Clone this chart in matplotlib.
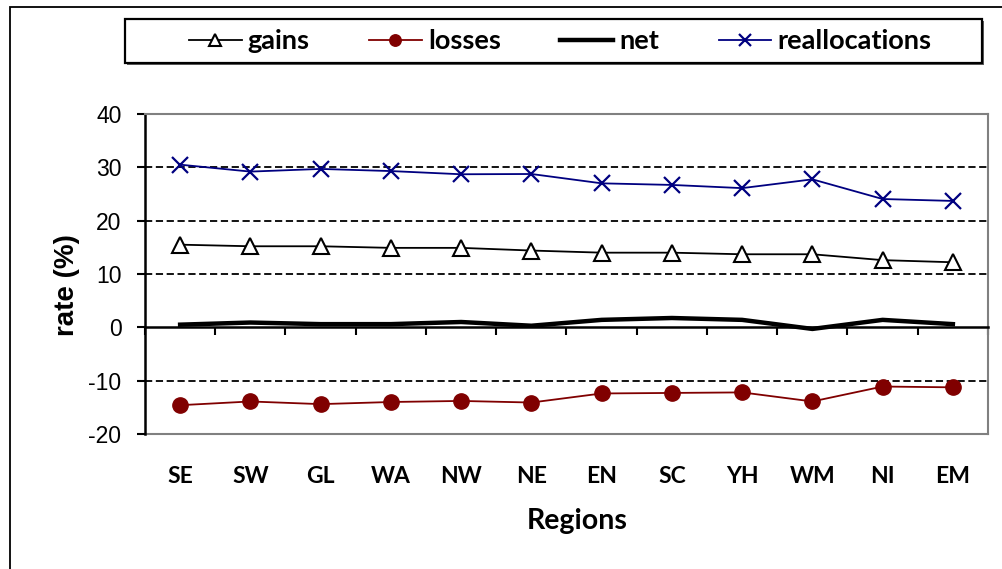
import numpy as np
import matplotlib
matplotlib.use('Agg')
import matplotlib.pyplot as plt
from matplotlib.patches import Rectangle

# data
regions = ['SE', 'SW', 'GL', 'WA', 'NW', 'NE', 'EN', 'SC', 'YH', 'WM', 'NI', 'EM']
gains = [15.5, 15.2, 15.2, 14.9, 14.9, 14.4, 14.0, 14.0, 13.7, 13.7, 12.6, 12.2]
losses = [-14.6, -13.9, -14.4, -14.0, -13.8, -14.1, -12.4, -12.3, -12.2, -13.9, -11.1, -11.25]
net = [0.5, 0.9, 0.6, 0.6, 1.0, 0.3, 1.4, 1.75, 1.4, -0.3, 1.4, 0.6]
reallocations = [30.5, 29.2, 29.7, 29.3, 28.7, 28.75, 27.0, 26.7, 26.1, 27.75, 24.06, 23.7]
yticks = [-20, -10, 0, 10, 20, 30, 40]
gridvals = [-10, 10, 20, 30]

calib = ['Lato', 'DejaVu Sans']
arial = ['Liberation Sans', 'DejaVu Sans']

fig = plt.figure(figsize=(10.03, 5.69), dpi=100)

# outer chart frame (runs off the right and bottom edge)
fig.patches.append(Rectangle((10 / 1003, -0.05), 1.0, 1 - 7 / 569 + 0.05,
                             transform=fig.transFigure, fill=False,
                             edgecolor='black', linewidth=1.3))

ax = fig.add_axes([145 / 1003, 1 - 434 / 569, 843 / 1003, 320 / 569])
x = np.arange(len(regions))

for g in gridvals:
    ax.axhline(g, color='black', linestyle=(0, (4, 2)), linewidth=1.3, zorder=1)

ax.plot(x, gains, color='black', linewidth=1.3, marker='^', markersize=11,
        markerfacecolor='white', markeredgecolor='black', markeredgewidth=1.5,
        label='gains', zorder=3)
ax.plot(x, losses, color='#800000', linewidth=1.3, marker='o', markersize=11,
        markerfacecolor='#800000', markeredgecolor='#800000', label='losses', zorder=3)
ax.plot(x, net, color='black', linewidth=3.2, label='net', zorder=3)
ax.plot(x, reallocations, color='#000080', linewidth=1.3, marker='x', markersize=12,
        markeredgewidth=1.6, label='reallocations', zorder=3)

ax.set_xlim(-0.5, len(regions) - 0.5)
ax.set_ylim(-20, 40)
ax.set_yticks(yticks)
ax.set_yticklabels([str(v) for v in yticks], fontfamily=arial, fontsize=16.5)
ax.tick_params(axis='y', direction='out', length=6, width=1.5, pad=11, color='black')

for s in ['top', 'right']:
    ax.spines[s].set_color('#808080')
    ax.spines[s].set_linewidth(1.5)
ax.spines['left'].set_color('black')
ax.spines['left'].set_linewidth(1.8)
ax.spines['bottom'].set_position(('data', 0))
ax.spines['bottom'].set_color('black')
ax.spines['bottom'].set_linewidth(1.8)
ax.set_xticks(np.arange(len(regions) + 1) - 0.5)
ax.set_xticklabels([])
ax.tick_params(axis='x', direction='out', length=6, width=1.5, color='black')

# region labels and the grey bottom border of the plot area
sec = ax.secondary_xaxis('bottom')
sec.set_xticks(x)
sec.set_xticklabels(regions, fontfamily=calib, fontweight='bold', fontsize=16.5)
sec.tick_params(length=0, pad=23)
sec.spines['bottom'].set_color('#808080')
sec.spines['bottom'].set_linewidth(1.5)

fig.text(577 / 1003, 1 - 521 / 569, 'Regions', ha='center', va='center',
         fontfamily=calib, fontweight='bold', fontsize=20.5)
fig.text(67 / 1003, 1 - 285 / 569, 'rate (%)', ha='center', va='center', rotation=90,
         fontfamily=arial, fontweight='bold', fontsize=20)

# legend box with a small shadow
fig.patches.append(Rectangle((127 / 1003, 1 - 65 / 569), 857 / 1003, 44 / 569,
                             transform=fig.transFigure, facecolor='#606060',
                             edgecolor='none'))
fig.patches.append(Rectangle((125 / 1003, 1 - 63 / 569), 857 / 1003, 44 / 569,
                             transform=fig.transFigure, facecolor='white',
                             edgecolor='black', linewidth=1.6))
fig.legend(loc='center', bbox_to_anchor=(560 / 1003, 1 - 41 / 569), ncol=4,
           frameon=False, prop={'family': calib, 'weight': 'bold', 'size': 19.5},
           handlelength=1.95, handletextpad=0.22, columnspacing=2.2, markerscale=0.75)

fig.savefig('out.png', dpi=100)
